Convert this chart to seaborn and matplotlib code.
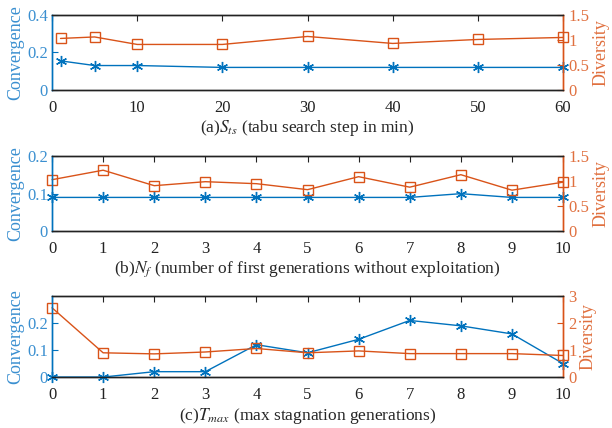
import matplotlib
matplotlib.use("Agg")
import matplotlib.pyplot as plt
import seaborn as sns
import pandas as pd

# Panel (a): tabu search step
x_a = [1, 5, 10, 20, 30, 40, 50, 60]
conv_a = [0.155, 0.13, 0.13, 0.12, 0.12, 0.12, 0.12, 0.12]
div_a = [1.03, 1.06, 0.91, 0.91, 1.07, 0.93, 1.01, 1.05]

# Panel (b): number of first generations without exploitation
x_b = [0, 1, 2, 3, 4, 5, 6, 7, 8, 9, 10]
conv_b = [0.09, 0.09, 0.09, 0.09, 0.09, 0.09, 0.09, 0.09, 0.10, 0.09, 0.09]
div_b = [1.03, 1.22, 0.91, 0.99, 0.95, 0.83, 1.09, 0.88, 1.13, 0.82, 0.98]

# Panel (c): max stagnation generations
x_c = [0, 1, 2, 3, 4, 5, 6, 7, 8, 9, 10]
conv_c = [0.0, 0.0, 0.02, 0.02, 0.12, 0.09, 0.14, 0.21, 0.19, 0.16, 0.05]
div_c = [2.57, 0.9, 0.86, 0.93, 1.06, 0.9, 0.97, 0.87, 0.87, 0.87, 0.8]

xlabels = [r"(a)$S_{ts}$ (tabu search step in min)",
           r"(b)$N_f$ (number of first generations without exploitation)",
           r"(c)$T_{max}$ (max stagnation generations)"]

BLUE = "#0072BD"
ORANGE = "#D95319"
BLUE_TXT = "#3A8FD0"
ORANGE_TXT = "#E0703F"

sns.set_style("white")
plt.rcParams["font.family"] = ["Liberation Serif", "DejaVu Serif"]
plt.rcParams["mathtext.fontset"] = "stix"

fig = plt.figure(figsize=(6.12, 4.28), dpi=100)

panels = [
    dict(x=x_a, conv=conv_a, div=div_a, pos=[0.085, 0.790, 0.835, 0.175],
         xlim=(0, 60), xticks=[0, 10, 20, 30, 40, 50, 60],
         ylim=(0, 0.4), yticks=[0, 0.2, 0.4], ylab=["0", "0.2", "0.4"],
         rlim=(0, 1.5), rticks=[0, 0.5, 1, 1.5], rlab=["0", "0.5", "1", "1.5"]),
    dict(x=x_b, conv=conv_b, div=div_b, pos=[0.085, 0.460, 0.835, 0.175],
         xlim=(0, 10), xticks=list(range(11)),
         ylim=(0, 0.2), yticks=[0, 0.1, 0.2], ylab=["0", "0.1", "0.2"],
         rlim=(0, 1.5), rticks=[0, 0.5, 1, 1.5], rlab=["0", "0.5", "1", "1.5"]),
    dict(x=x_c, conv=conv_c, div=div_c, pos=[0.085, 0.119, 0.835, 0.189],
         xlim=(0, 10), xticks=list(range(11)),
         ylim=(0, 0.3), yticks=[0, 0.1, 0.2], ylab=["0", "0.1", "0.2"],
         rlim=(0, 3), rticks=[0, 1, 2, 3], rlab=["0", "1", "2", "3"]),
]

for p, xl in zip(panels, xlabels):
    ax = fig.add_axes(p["pos"])
    ax2 = ax.twinx()
    df = pd.DataFrame({"x": p["x"], "conv": p["conv"], "div": p["div"]})

    sns.lineplot(data=df, x="x", y="conv", ax=ax, color=BLUE, lw=1.0,
                 marker=(6, 2, 0), markersize=8, markeredgewidth=1.0,
                 markeredgecolor=BLUE, clip_on=False, zorder=5)
    sns.lineplot(data=df, x="x", y="div", ax=ax2, color=ORANGE, lw=1.0,
                 marker="s", markersize=7, markerfacecolor="none",
                 markeredgewidth=1.0, markeredgecolor=ORANGE, clip_on=False)

    ax.set_xlim(*p["xlim"])
    ax.set_xticks(p["xticks"])
    ax.set_ylim(*p["ylim"])
    ax.set_yticks(p["yticks"])
    ax.set_yticklabels(p["ylab"])
    ax2.set_ylim(*p["rlim"])
    ax2.set_yticks(p["rticks"])
    ax2.set_yticklabels(p["rlab"])

    ax.set_ylabel("Convergence", fontsize=13, color=BLUE_TXT, labelpad=2)
    ax2.set_ylabel("Diversity", fontsize=13, color=ORANGE_TXT, labelpad=2)

    ax.tick_params(axis="x", direction="in", length=4, labelsize=12,
                   colors="#222222", pad=7, top=True)
    ax.tick_params(axis="y", direction="in", length=4, labelsize=12,
                   colors=BLUE, labelcolor=BLUE_TXT, pad=3)
    ax2.tick_params(axis="y", direction="in", length=4, labelsize=12,
                    colors=ORANGE, labelcolor=ORANGE_TXT, pad=4)

    for a in (ax, ax2):
        a.spines["top"].set_color("#222222")
        a.spines["bottom"].set_color("#222222")
        a.spines["left"].set_color(BLUE)
        a.spines["right"].set_color(ORANGE)
        for s in a.spines.values():
            s.set_linewidth(1.0)
            s.set_visible(True)
    ax2.set_xlabel("")
    ax.set_xlabel(xl, fontsize=12.5, labelpad=2)

plt.savefig("out.png", dpi=100)
